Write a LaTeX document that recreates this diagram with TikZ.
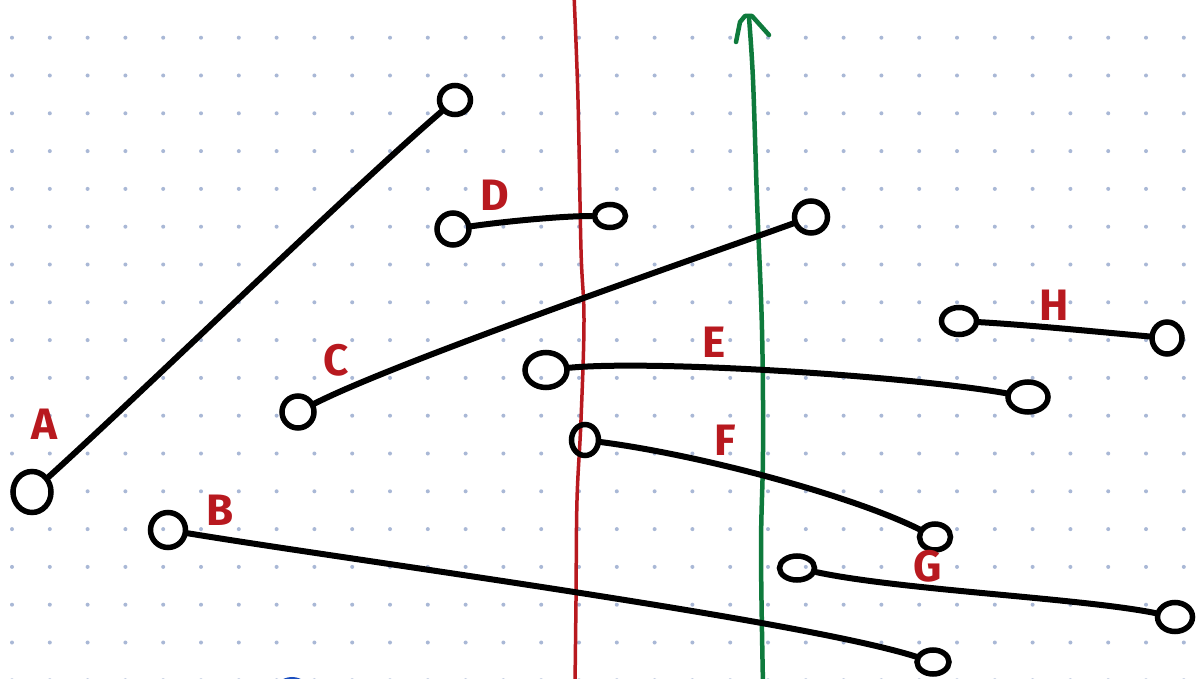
\documentclass[tikz,border=0pt]{standalone}
\usepackage{fontspec}
\newfontfamily\lblfont{Fira Sans}
\usetikzlibrary{shapes.geometric}
\definecolor{inkred}{HTML}{B8191F}
\definecolor{inkgreen}{HTML}{0E7A3C}
\definecolor{inkblue}{HTML}{1B4FBF}
\definecolor{dotcol}{HTML}{A9B8D6}
\tikzset{
  loopnode/.style={ellipse, draw=black, line width=5.5pt, inner sep=0pt},
  seg/.style={draw=black, line width=6pt, line cap=round, line join=round},
  lbl/.style={text=inkred, font=\lblfont\bfseries\fontsize{44}{44}\selectfont, inner sep=0pt},
}
\begin{document}
\begin{tikzpicture}[x=1pt, y=-1pt]
\useasboundingbox (0,0) rectangle (1196,679);
\clip (0,0) rectangle (1196,679);
\fill[white] (0,0) rectangle (1196,679);
% dot grid
\foreach \i in {0,...,31} {
  \foreach \j in {0,...,17} {
    \fill[dotcol] ({12+37.8*\i},{37.7+37.8*\j}) circle (2);
  }
}
% red vertical line
\draw[inkred, line width=3.5pt, line cap=round] plot[smooth, tension=0.6] coordinates
  {(574,-5) (578,100) (581,250) (584,320) (581,420) (577,500) (576,600) (575,685)};
% green vertical line with arrow
\draw[inkgreen, line width=4.5pt, line cap=round] plot[smooth, tension=0.6] coordinates
  {(763,685) (761,550) (763,450) (762,330) (757,200) (753,80) (749,18)};
\draw[inkgreen, line width=4.5pt, line cap=round, line join=round]
  (736,42) -- (740,22) -- (745,16) -- (752,16) -- (769,35);
% blue arc at bottom
\draw[inkblue, line width=4pt] (292,695) ellipse (17 and 16);
% loop ends
\node[loopnode, minimum width=38pt, minimum height=41pt] (A1) at (32,492) {};
\node[loopnode, minimum width=31pt, minimum height=29pt] (A2) at (455,100) {};
\node[loopnode, minimum width=35pt, minimum height=35pt] (B1) at (168,530) {};
\node[loopnode, minimum width=32pt, minimum height=24pt] (B2) at (933,662) {};
\node[loopnode, minimum width=32pt, minimum height=32pt] (C1) at (298,412) {};
\node[loopnode, minimum width=33pt, minimum height=32pt] (C2) at (811,217) {};
\node[loopnode, minimum width=32pt, minimum height=32pt] (D1) at (453,229) {};
\node[loopnode, minimum width=31pt, minimum height=23pt] (D2) at (610,216) {};
\node[loopnode, minimum width=42pt, minimum height=35pt] (E1) at (546,370) {};
\node[loopnode, minimum width=40pt, minimum height=30pt] (E2) at (1028,397) {};
\node[loopnode, minimum width=27pt, minimum height=31pt] (F1) at (585,440) {};
\node[loopnode, minimum width=31pt, minimum height=26pt] (F2) at (935,537) {};
\node[loopnode, minimum width=35pt, minimum height=24pt] (G1) at (797,568) {};
\node[loopnode, minimum width=35pt, minimum height=29pt] (G2) at (1175,617) {};
\node[loopnode, minimum width=35pt, minimum height=27pt] (H1) at (959,321) {};
\node[loopnode, minimum width=30pt, minimum height=32pt] (H2) at (1167,338) {};
% segments
\draw[seg] (A1) .. controls (150,385) and (350,190) .. (A2);
\draw[seg] (B1) .. controls (350,560) and (800,620) .. (B2);
\draw[seg] (C1) .. controls (400,360) and (720,250) .. (C2);
\draw[seg] (D1) .. controls (500,222) and (560,216) .. (D2);
\draw[seg] (E1) .. controls (650,360) and (900,375) .. (E2);
\draw[seg] (F1) .. controls (700,455) and (850,495) .. (F2);
\draw[seg] (G1) .. controls (900,590) and (1080,598) .. (G2);
\draw[seg] (H1) .. controls (1030,325) and (1110,333) .. (H2);
% labels
\node[lbl] (lA) at (44,424) {A};
\node[lbl] (lB) at (220,510) {B};
\node[lbl] (lC) at (336,360) {C};
\node[lbl] (lD) at (495,195) {D};
\node[lbl] (lE) at (714,342) {E};
\node[lbl] (lF) at (725,440) {F};
\node[lbl] (lG) at (928,566) {G};
\node[lbl] (lH) at (1054,305) {H};
\end{tikzpicture}
\end{document}
